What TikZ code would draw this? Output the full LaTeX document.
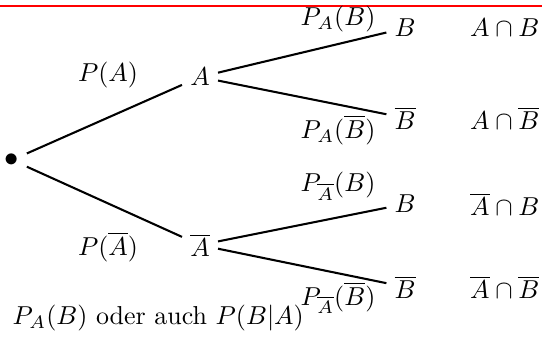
\documentclass[tikz,border=0pt]{standalone}
\begin{document}
\begin{tikzpicture}[font=\normalsize,
      branch/.style={thick, black},
      event/.style={inner sep=3pt},
      prob/.style={inner sep=1pt},
    ]
    \useasboundingbox (0,0) rectangle (7.344,4.553);

    % Top rule
    \draw[red, line width=0.5pt] (0,4.472) -- (7.344,4.472);

    % Root and first stage
    \node[event, inner sep=2.5pt, scale=1.1] (root) at (0.163,2.385) {$\bullet$};
    \node[event] (a) at (2.71,3.51) {$A$};
    \node[event] (na) at (2.71,1.233) {$\overline{A}$};

    % Second stage
    \node[event] (ab) at (5.49,4.173) {$B$};
    \node[event] (anb) at (5.49,2.954) {$\overline{B}$};
    \node[event] (nab) at (5.49,1.789) {$B$};
    \node[event] (nanb) at (5.49,0.664) {$\overline{B}$};

    % Intersections
    \node (iab) at (6.84,4.173) {$A\cap B$};
    \node (ianb) at (6.84,2.954) {$A\cap\overline{B}$};
    \node (inab) at (6.84,1.789) {$\overline{A}\cap B$};
    \node (inanb) at (6.84,0.664) {$\overline{A}\cap\overline{B}$};

    % Branches
    \draw[branch] (root) -- (a);
    \draw[branch] (root) -- (na);
    \draw[branch] (a) -- (ab);
    \draw[branch] (a) -- (anb);
    \draw[branch] (na) -- (nab);
    \draw[branch] (na) -- (nanb);

    % Branch probabilities
    \node[prob] (pa) at (1.463,3.537) {$P(A)$};
    \node[prob] (pna) at (1.463,1.206) {$P(\overline{A})$};
    \node[prob] (pab) at (4.58,4.30) {$P_A(B)$};
    \node[prob] (panb) at (4.58,2.79) {$P_A(\overline{B})$};
    \node[prob] (pnab) at (4.58,2.03) {$P_{\overline{A}}(B)$};
    \node[prob] (pnanb) at (4.58,0.515) {$P_{\overline{A}}(\overline{B})$};

    % Note
    \node[prob, anchor=west] (note) at (0.13,0.244) {$P_A(B)$ oder auch $P(B|A)$};
  \end{tikzpicture}
\end{document}
